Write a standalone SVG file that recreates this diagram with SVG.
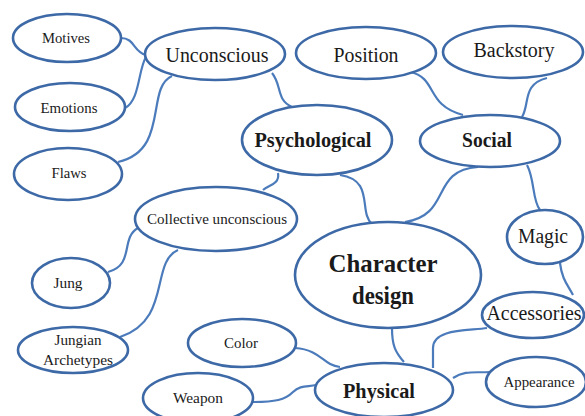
<svg xmlns="http://www.w3.org/2000/svg" width="585" height="416" viewBox="0 0 585 416">
  <style>
    .node ellipse { fill: #ffffff; stroke: #3d69a7; stroke-width: 2.6; }
    .link { fill: none; stroke: #4b7bbb; stroke-width: 2.2; }
    text { font-family: "Liberation Serif", Tinos, "Times New Roman", Times, "Nimbus Roman", "DejaVu Serif", serif; fill: #1a1a1a; text-anchor: middle; }
    .s { font-size: 14.8px; }
    .m { font-size: 20px; }
    .b { font-size: 20px; font-weight: bold; }
    .xl { font-size: 25px; font-weight: bold; }
  </style>
  <rect width="585" height="416" fill="#ffffff"/>

  <!-- connectors -->
  <g id="connectors">
    <path class="link" d="M121,38 C135,38 133,52 146,55"/>
    <path class="link" d="M125,108 C140,100 138,70 146,57"/>
    <path class="link" d="M118,162 C170,150 145,88 172,76"/>
    <path class="link" d="M272,73 C282,85 276,100 292,107"/>
    <path class="link" d="M278,173 C280,185 268,185 263,190"/>
    <path class="link" d="M340,175 C375,180 358,212 372,224"/>
    <path class="link" d="M410,72 C438,78 425,105 463,115"/>
    <path class="link" d="M547,78 C522,84 530,104 522,117"/>
    <path class="link" d="M478,167 C430,170 452,215 405,222"/>
    <path class="link" d="M527,165 C535,180 532,200 540,210"/>
    <path class="link" d="M560,263 C562,280 568,285 573,295"/>
    <path class="link" d="M487,328 C470,331 433,328 433,348 L433,368"/>
    <path class="link" d="M392,328 C392,345 395,352 404,362"/>
    <path class="link" d="M453,378 C465,370 475,373 490,372"/>
    <path class="link" d="M295,348 C322,350 322,365 340,367"/>
    <path class="link" d="M253,402 C275,402 285,400 293,392 C300,385 308,387 316,385"/>
    <path class="link" d="M138,228 C120,238 135,265 108,272"/>
    <path class="link" d="M178,250 C150,262 172,320 120,337"/>
  </g>

  <!-- nodes -->
  <g id="motives" class="node">
    <ellipse cx="67" cy="38" rx="54" ry="24"/>
    <text class="s" x="66" y="43" textLength="48" lengthAdjust="spacingAndGlyphs">Motives</text>
  </g>
  <g id="emotions" class="node">
    <ellipse cx="70" cy="107" rx="55" ry="24"/>
    <text class="s" x="69" y="113" textLength="57" lengthAdjust="spacingAndGlyphs">Emotions</text>
  </g>
  <g id="flaws" class="node">
    <ellipse cx="68" cy="174" rx="54" ry="26"/>
    <text class="s" x="69" y="178" textLength="35" lengthAdjust="spacingAndGlyphs">Flaws</text>
  </g>
  <g id="unconscious" class="node">
    <ellipse cx="215" cy="54" rx="70" ry="26"/>
    <text class="m" x="217" y="62" textLength="103" lengthAdjust="spacingAndGlyphs">Unconscious</text>
  </g>
  <g id="position" class="node">
    <ellipse cx="366" cy="53" rx="70" ry="26"/>
    <text class="m" x="366" y="62" textLength="65" lengthAdjust="spacingAndGlyphs">Position</text>
  </g>
  <g id="backstory" class="node">
    <ellipse cx="513" cy="52" rx="70" ry="26"/>
    <text class="m" x="514" y="57" textLength="81" lengthAdjust="spacingAndGlyphs">Backstory</text>
  </g>
  <g id="psychological" class="node">
    <ellipse cx="317" cy="140" rx="75" ry="35"/>
    <text class="b" x="313" y="147" textLength="117" lengthAdjust="spacingAndGlyphs">Psychological</text>
  </g>
  <g id="social" class="node">
    <ellipse cx="490" cy="141" rx="70" ry="26"/>
    <text class="b" x="487" y="147" textLength="50" lengthAdjust="spacingAndGlyphs">Social</text>
  </g>
  <g id="collective-unconscious" class="node">
    <ellipse cx="216" cy="219" rx="81" ry="32"/>
    <text class="s" x="217" y="224" textLength="140" lengthAdjust="spacingAndGlyphs">Collective unconscious</text>
  </g>
  <g id="jung" class="node">
    <ellipse cx="71" cy="283" rx="39" ry="25"/>
    <text class="s" x="68" y="288" textLength="29" lengthAdjust="spacingAndGlyphs">Jung</text>
  </g>
  <g id="jungian-archetypes" class="node">
    <ellipse cx="73" cy="350" rx="55" ry="23"/>
    <text class="s" x="78" y="345" textLength="47" lengthAdjust="spacingAndGlyphs">Jungian</text>
    <text class="s" x="78" y="365" textLength="70" lengthAdjust="spacingAndGlyphs">Archetypes</text>
  </g>
  <g id="character-design" class="node">
    <ellipse cx="388" cy="275" rx="93" ry="53"/>
    <text class="xl" x="383" y="272" textLength="109" lengthAdjust="spacingAndGlyphs">Character</text>
    <text class="xl" x="383" y="304" textLength="62" lengthAdjust="spacingAndGlyphs">design</text>
  </g>
  <g id="magic" class="node">
    <ellipse cx="545" cy="237" rx="38" ry="27"/>
    <text class="m" x="543" y="243" textLength="50" lengthAdjust="spacingAndGlyphs">Magic</text>
  </g>
  <g id="accessories" class="node">
    <ellipse cx="533" cy="315" rx="51" ry="23"/>
    <text class="m" x="534" y="320" textLength="95" lengthAdjust="spacingAndGlyphs">Accessories</text>
  </g>
  <g id="color" class="node">
    <ellipse cx="242" cy="343" rx="54" ry="24"/>
    <text class="s" x="241" y="348" textLength="34" lengthAdjust="spacingAndGlyphs">Color</text>
  </g>
  <g id="weapon" class="node">
    <ellipse cx="198" cy="398" rx="55" ry="25"/>
    <text class="s" x="198" y="403" textLength="50" lengthAdjust="spacingAndGlyphs">Weapon</text>
  </g>
  <g id="physical" class="node">
    <ellipse cx="384" cy="390" rx="69" ry="27"/>
    <text class="b" x="379" y="398" textLength="72" lengthAdjust="spacingAndGlyphs">Physical</text>
  </g>
  <g id="appearance" class="node">
    <ellipse cx="536" cy="382" rx="50" ry="25"/>
    <text class="s" x="539" y="387" textLength="71" lengthAdjust="spacingAndGlyphs">Appearance</text>
  </g>
</svg>
